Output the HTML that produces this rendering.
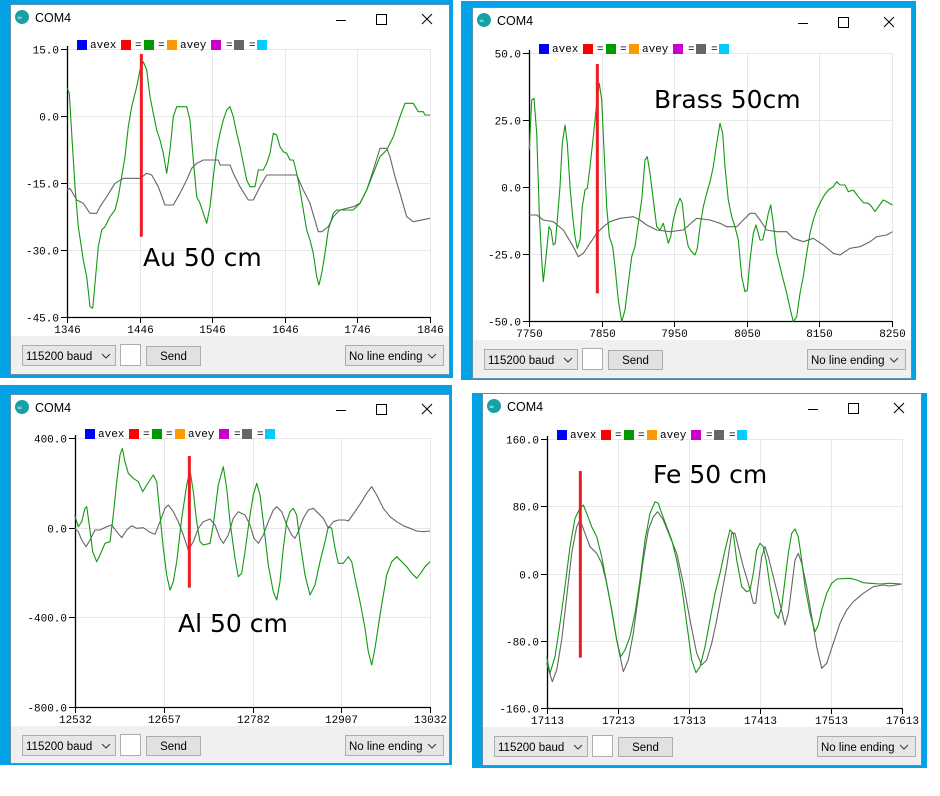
<!DOCTYPE html>
<html><head><meta charset="utf-8"><style>
html,body{margin:0;padding:0;background:#fff;}
svg{display:block;}
</style></head><body>
<svg id="s" width="940" height="796" xmlns="http://www.w3.org/2000/svg"></svg>
<script>
const NS="http://www.w3.org/2000/svg";
const S=document.getElementById('s');
function el(t,a,txt){const e=document.createElementNS(NS,t);for(const k in a)e.setAttribute(k,a[k]);if(txt!==undefined)e.textContent=txt;S.appendChild(e);return e;}
const W=[
{blue:[0,0,453,378],win:[10,4,440,371],p:[67,430,49,317],bar:336,off:[0,0],
 yl:["15.0","0.0","-15.0","-30.0","-45.0"],xl:["1346","1446","1546","1646","1746","1846"],
 red:[424,162,710],title:"Au 50 cm",tx:143,ty:266,
 g:[[202,265],[208,280],[215,400],[225,560],[235,680],[250,780],[260,830],[270,920],[278,925],[285,850],[295,740],[305,690],[315,680],[330,650],[345,630],[355,590],[365,530],[375,470],[385,380],[395,320],[410,260],[420,210],[430,185],[440,210],[450,290],[460,340],[470,390],[480,420],[490,460],[500,520],[510,450],[520,350],[530,320],[560,320],[570,360],[580,480],[590,590],[600,610],[610,640],[620,670],[630,620],[640,530],[650,450],[660,400],[670,360],[680,330],[690,320],[700,350],[710,400],[720,440],[730,490],[740,540],[750,560],[765,560],[775,510],[790,510],[800,490],[810,460],[820,400],[830,405],[840,440],[850,455],[860,460],[870,480],[880,480],[890,520],[900,570],[910,630],[920,690],[930,720],[940,760],[950,830],[957,855],[965,820],[975,760],[985,690],[1000,640],[1010,630],[1060,630],[1080,610],[1100,570],[1120,520],[1140,470],[1160,450],[1180,410],[1200,350],[1215,310],[1240,310],[1255,335],[1270,335],[1275,345],[1290,345]],
 k:[[202,570],[210,565],[230,600],[250,610],[270,640],[290,640],[300,620],[320,590],[345,550],[370,535],[420,535],[440,520],[455,525],[475,560],[495,615],[520,615],[540,580],[560,540],[575,505],[590,490],[600,485],[610,480],[655,480],[660,495],[690,495],[700,520],[720,560],[745,600],[760,600],[780,560],[800,525],[890,525],[910,570],[930,610],[955,695],[965,695],[985,680],[1000,650],[1020,630],[1060,620],[1080,610],[1100,570],[1120,510],[1140,445],[1160,445],[1170,470],[1185,530],[1200,580],[1220,650],[1240,665],[1290,655]]},
{blue:[461,1,455,379],win:[472,7,440,372],p:[529,892,53,321],bar:340,off:[450,0],
 yl:["50.0","25.0","0.0","-25.0","-50.0"],xl:["7750","7850","7950","8050","8150","8250"],
 red:[442,192,880],title:"Brass 50cm",tx:654,ty:108,
 g:[[238,450],[245,300],[252,295],[260,400],[268,640],[275,780],[280,845],[287,780],[297,680],[303,690],[310,735],[316,730],[322,660],[330,560],[337,430],[345,375],[352,430],[360,560],[368,650],[375,710],[382,745],[390,720],[397,620],[405,570],[412,565],[420,500],[430,410],[440,310],[448,250],[455,300],[462,450],[470,620],[478,710],[488,740],[495,800],[505,900],[515,965],[525,930],[535,850],[545,770],[555,740],[565,670],[575,600],[585,480],[592,470],[600,520],[610,600],[620,680],[630,690],[640,670],[650,710],[655,730],[662,710],[670,660],[680,620],[690,595],[697,610],[705,690],[715,740],[725,755],[735,765],[742,745],[750,680],[760,620],[770,580],[780,545],[790,500],[800,430],[810,370],[818,400],[825,500],[835,600],[845,650],[855,680],[865,720],[875,830],[885,875],[892,870],[900,780],[910,700],[918,675],[925,700],[930,720],[938,720],[945,690],[955,640],[962,615],[970,670],[980,760],[990,800],[1000,840],[1010,880],[1020,925],[1030,965],[1040,950],[1050,880],[1060,830],[1070,760],[1080,700],[1090,660],[1100,630],[1110,610],[1120,590],[1135,570],[1150,560],[1160,545],[1170,555],[1185,555],[1195,575],[1210,570],[1225,590],[1240,608],[1255,610],[1265,620],[1275,635],[1285,620],[1300,600],[1310,605],[1327,615]],
 k:[[238,645],[260,645],[280,660],[310,665],[340,690],[370,740],[385,770],[400,760],[420,730],[440,700],[460,680],[480,665],[510,655],[550,650],[570,660],[590,675],[620,690],[660,695],[700,690],[740,655],[780,660],[810,670],[830,680],[860,680],[880,660],[900,640],[915,640],[930,660],[950,690],[980,695],[1010,695],[1030,715],[1060,725],[1090,715],[1120,735],[1150,760],[1170,765],[1200,745],[1230,740],[1260,725],[1280,710],[1310,705],[1327,695]]},
{blue:[0,385,452,380],win:[10,394,440,370],p:[75,430,438,707],bar:726,off:[0,375],
 yl:["400.0","0.0","-400.0","-800.0"],xl:["12532","12657","12782","12907","13032"],
 red:[568,243,638],title:"Al 50 cm",tx:178,ty:632,
 g:[[224,420],[235,455],[245,440],[255,400],[260,395],[268,450],[278,530],[290,560],[300,540],[315,505],[330,500],[340,420],[350,320],[360,240],[367,220],[375,260],[385,295],[400,310],[415,320],[428,350],[440,330],[460,300],[470,320],[480,420],[490,520],[500,600],[510,645],[520,620],[530,560],[545,430],[560,330],[570,285],[580,350],[590,440],[600,500],[610,510],[630,505],[640,450],[655,330],[670,275],[680,340],[690,440],[705,550],[715,605],[725,595],[735,530],[750,420],[760,360],[770,325],[780,360],[790,440],[805,570],[820,650],[830,675],[840,620],[850,520],[860,440],[870,410],[880,400],[890,420],[900,500],[915,600],[930,660],[945,630],[960,560],[975,500],[985,455],[995,460],[1005,520],[1015,565],[1030,565],[1045,545],[1055,560],[1065,610],[1080,680],[1095,760],[1105,830],[1115,870],[1125,820],[1140,720],[1160,600],[1175,560],[1190,545],[1205,560],[1220,575],[1235,595],[1250,610],[1265,590],[1275,575],[1290,560]],
 k:[[224,460],[235,470],[245,495],[258,515],[270,495],[285,465],[300,465],[320,455],[335,450],[350,470],[365,488],[380,465],[395,452],[410,460],[430,458],[450,472],[465,478],[480,440],[495,400],[505,390],[520,410],[535,440],[550,480],[565,525],[580,500],[595,460],[610,440],[630,432],[645,450],[660,490],[670,505],[685,480],[700,430],[715,410],[735,420],[750,450],[762,490],[775,505],[790,480],[805,440],[820,405],[830,395],[845,410],[860,450],[875,480],[885,490],[895,470],[910,430],[925,405],[940,400],[955,415],[970,430],[985,460],[1000,440],[1015,435],[1035,435],[1045,438],[1065,410],[1085,380],[1100,355],[1115,335],[1130,360],[1150,400],[1170,425],[1190,440],[1210,452],[1230,460],[1250,468],[1270,470],[1290,468]]},
{blue:[472,393,455,375],win:[482,393,440,373],p:[547,902,439,708],bar:727,off:[470,380],
 yl:["160.0","80.0","0.0","-80.0","-160.0"],xl:["17113","17213","17313","17413","17513","17613"],
 red:[331,273,833],title:"Fe 50 cm",tx:653,ty:483,
 g:[[230,830],[240,880],[255,830],[270,730],[285,620],[300,500],[315,415],[330,385],[340,375],[350,400],[365,440],[380,470],[395,530],[410,610],[425,690],[440,780],[452,830],[465,810],[480,770],[495,700],[510,600],[525,480],[540,400],[555,365],[565,370],[575,400],[590,440],[605,480],[620,540],[635,620],[650,730],[665,840],[678,878],[690,860],[705,800],[720,720],[735,640],[750,580],[765,510],[780,450],[790,460],[800,540],[815,620],[830,635],[840,630],[850,580],[860,510],[870,490],[880,500],[890,550],[900,620],[915,700],[925,715],[935,680],[945,600],[955,520],[965,460],[975,447],[985,470],[995,540],[1005,620],[1020,700],[1035,755],[1045,735],[1055,690],[1070,640],[1085,610],[1100,597],[1140,595],[1160,600],[1180,608],[1200,610],[1230,612],[1260,610],[1295,612]],
 k:[[230,850],[247,905],[260,870],[275,780],[290,650],[305,520],[320,440],[330,420],[345,460],[360,500],[380,520],[395,550],[410,610],[425,690],[440,780],[460,875],[475,840],[490,760],[505,650],[520,540],[535,450],[550,410],[563,395],[580,420],[600,470],[620,520],[640,610],[660,720],[680,820],[695,855],[710,840],[725,790],[740,720],[755,640],[770,560],[785,460],[795,460],[805,500],[820,560],[835,610],[850,670],[857,670],[865,610],[875,530],[885,500],[895,530],[910,590],[925,650],[945,735],[955,700],[965,620],[975,540],[985,520],[995,550],[1010,620],[1025,710],[1040,800],[1055,865],[1070,850],[1090,790],[1110,730],[1130,690],[1150,665],[1180,640],[1210,620],[1240,615],[1260,618],[1295,612]]}
];
const MONO='"Liberation Mono",monospace', SANS='"Liberation Sans","DejaVu Sans",sans-serif';
for(const w of W){
  const [bx,by,bw,bh]=w.blue; el('rect',{x:bx,y:by,width:bw,height:bh,fill:'#03a2e6'});
  const [wx,wy,ww,wh]=w.win;
  el('rect',{x:wx+.5,y:wy+.5,width:ww-1,height:wh-1,fill:'#fff',stroke:'#5a8fb0'});
  // title bar
  el('circle',{cx:wx+12,cy:wy+13,r:7,fill:'#17a1a5'});
  el('text',{x:wx+7.5,y:wy+15.5,'font-family':SANS,'font-size':6,fill:'#fff'},'∞');
  el('text',{x:wx+25,y:wy+18,'font-family':SANS,'font-size':12.5,fill:'#000'},'COM4');
  el('line',{x1:wx+326,y1:wy+16.5,x2:wx+336,y2:wy+16.5,stroke:'#000'});
  el('rect',{x:wx+366.5,y:wy+10.5,width:10,height:10,fill:'none',stroke:'#000'});
  el('path',{d:`M${wx+412} ${wy+10}l10 10M${wx+422} ${wy+10}l-10 10`,stroke:'#000',fill:'none'});
  const [x0,x1,y0,y1]=w.p;
  const ny=w.yl.length-1, nx=w.xl.length-1;
  for(let i=0;i<=ny;i++){const y=Math.round(y0+(y1-y0)*i/ny)+.5;
    el('line',{x1:x0,y1:y,x2:x1,y2:y,stroke:'#e8e8e8'});
    el('line',{x1:x0-6,y1:y,x2:x0,y2:y,stroke:'#000'});
    el('text',{x:x0-8,y:y+4,'text-anchor':'end','font-family':MONO,'font-size':11,fill:'#000'},w.yl[i]);}
  for(let i=0;i<=nx;i++){const x=Math.round(x0+(x1-x0)*i/nx)+.5;
    el('line',{x1:x,y1:y0,x2:x,y2:y1,stroke:'#e8e8e8'});
    el('line',{x1:x,y1:y1,x2:x,y2:y1+6,stroke:'#000'});
    el('text',{x:x,y:y1+16,'text-anchor':'middle','font-family':MONO,'font-size':11,fill:'#000'},w.xl[i]);}
  el('line',{x1:x0+.5,y1:y0-3,x2:x0+.5,y2:y1+1,stroke:'#000','stroke-width':1.3});
  el('line',{x1:x0,y1:y1+.5,x2:x1,y2:y1+.5,stroke:'#000','stroke-width':1.3});
  // legend
  const L=[[10,'#0000ff'],[54,'#ff0000'],[77,'#009900'],[100,'#ff9900'],[144,'#cc00cc'],[167,'#666666'],[190,'#00ccff']];
  for(const [dx,c] of L) el('rect',{x:x0+dx,y:y0-9,width:10,height:10,fill:c});
  const T=[[23,'avex'],[68,'='],[91,'='],[113,'avey'],[159,'='],[182,'=']];
  for(const [dx,t] of T) el('text',{x:x0+dx,y:y0-1,'font-family':MONO,'font-size':11,fill:'#000'},t);
  const [ox,oy]=w.off;
  const pts=a=>a.map(p=>(ox+p[0]/3).toFixed(1)+','+(oy+p[1]/3).toFixed(1)).join(' ');
  el('polyline',{points:pts(w.k),fill:'none',stroke:'#666','stroke-width':1.1,'stroke-linejoin':'round'});
  el('polyline',{points:pts(w.g),fill:'none',stroke:'#119911','stroke-width':1.1,'stroke-linejoin':'round'});
  el('rect',{x:ox+w.red[0]/3-1.5,y:oy+w.red[1]/3,width:3,height:(w.red[2]-w.red[1])/3,fill:'#ee1c24'});
  el('text',{x:w.tx,y:w.ty,'font-family':'"DejaVu Sans",sans-serif','font-size':25,fill:'#000'},w.title);
  // bottom bar
  const bt=w.bar;
  el('rect',{x:wx+1,y:bt,width:ww-2,height:wy+wh-1-bt,fill:'#f0f0f0'});
  const cy=bt+9;
  el('rect',{x:wx+12.5,y:cy+.5,width:93,height:20,fill:'#e6e6e6',stroke:'#adadad'});
  el('text',{x:wx+16,y:cy+15,'font-family':SANS,'font-size':11.5,fill:'#000'},'115200 baud');
  el('path',{d:`M${wx+92} ${cy+9}l4 4l4 -4`,stroke:'#333',fill:'none'});
  el('rect',{x:wx+110.5,y:cy-.5,width:20,height:21,fill:'#fff',stroke:'#adadad'});
  el('rect',{x:wx+136.5,y:cy+1.5,width:54,height:19,fill:'#e1e1e1',stroke:'#adadad'});
  el('text',{x:wx+163.5,y:cy+15,'text-anchor':'middle','font-family':SANS,'font-size':11.5,fill:'#000'},'Send');
  el('rect',{x:wx+ww-104.5,y:cy+.5,width:98,height:20,fill:'#e6e6e6',stroke:'#adadad'});
  el('text',{x:wx+ww-101,y:cy+15,'font-family':SANS,'font-size':11.5,fill:'#000'},'No line ending');
  el('path',{d:`M${wx+ww-22} ${cy+9}l4 4l4 -4`,stroke:'#333',fill:'none'});
}
</script>
</body></html>
